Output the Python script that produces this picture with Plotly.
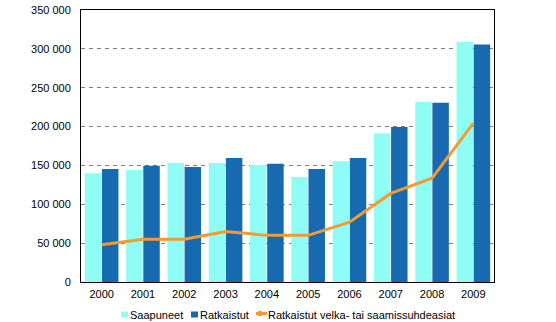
import plotly.graph_objects as go

years = ["2000", "2001", "2002", "2003", "2004", "2005", "2006", "2007", "2008", "2009"]
saapuneet = [140000, 144000, 153000, 153000, 150500, 135000, 155500, 191500, 232000, 309000]
ratkaistut = [145500, 149500, 148000, 159500, 152000, 145500, 159500, 199500, 230500, 305500]
velka_saamissuhde = [48000, 55000, 55000, 65000, 60000, 60000, 77000, 114000, 133500, 204500]

y_ticks = [0, 50000, 100000, 150000, 200000, 250000, 300000, 350000]
y_tick_labels = ["0", "50 000", "100 000", "150 000", "200 000", "250 000", "300 000", "350 000"]

series_names = ["Saapuneet", "Ratkaistut", "Ratkaistut velka- tai saamissuhdeasiat"]
series_colors = ["#8ffcf6", "#1769b0", "#f39a32"]

W, H = 556, 322
M = dict(l=81, r=62, t=10, b=40)
PW, PH = W - M["l"] - M["r"], H - M["t"] - M["b"]


def px_x(px):
    return (px - M["l"]) / PW


def px_y(py):
    return (H - M["b"] - py) / PH


fig = go.Figure()
fig.add_trace(go.Bar(x=years, y=saapuneet, name=series_names[0],
                     marker=dict(color=series_colors[0], line=dict(width=0))))
fig.add_trace(go.Bar(x=years, y=ratkaistut, name=series_names[1],
                     marker=dict(color=series_colors[1], line=dict(width=0))))
fig.add_trace(go.Scatter(x=years, y=velka_saamissuhde, mode="lines", name=series_names[2],
                         line=dict(color=series_colors[2], width=3)))

# compact legend row under the x axis
legend_y = 314.5
legend_items = [  # (symbol kind, symbol left, symbol right, text left)
    ("box", 121, 128, 128),
    ("box", 191, 198, 198),
    ("line", 256, 267, 266),
]
shapes = []
annotations = []
for (kind, s0, s1, tx), name, color in zip(legend_items, series_names, series_colors):
    if kind == "box":
        shapes.append(dict(type="rect", xref="paper", yref="paper",
                           x0=px_x(s0), x1=px_x(s1),
                           y0=px_y(legend_y + 3), y1=px_y(legend_y - 3),
                           fillcolor=color, line=dict(width=0)))
    else:
        shapes.append(dict(type="line", xref="paper", yref="paper",
                           x0=px_x(s0), x1=px_x(s1),
                           y0=px_y(legend_y - 1), y1=px_y(legend_y - 1),
                           line=dict(color=color, width=3)))
        shapes.append(dict(type="rect", xref="paper", yref="paper",
                           x0=px_x(s0 + 2), x1=px_x(s0 + 6),
                           y0=px_y(legend_y + 1.5), y1=px_y(legend_y - 3.5),
                           fillcolor=color, line=dict(width=0)))
    annotations.append(dict(text=name, xref="paper", yref="paper",
                            x=px_x(tx), y=px_y(legend_y), xanchor="left",
                            yanchor="middle", showarrow=False,
                            font=dict(size=11, color="black")))

fig.update_layout(
    width=W, height=H,
    margin=dict(**M, autoexpand=False),
    paper_bgcolor="white", plot_bgcolor="white",
    font=dict(family="Liberation Sans, Arial, sans-serif", size=11, color="black"),
    barmode="group", bargap=0.17, bargroupgap=0.04,
    showlegend=False,
    shapes=shapes,
    annotations=annotations,
)
fig.update_xaxes(type="category", showline=True, linecolor="black", linewidth=1,
                 mirror=True, ticks="", showgrid=False, ticklabelstandoff=2)
fig.update_yaxes(range=[0, 350000], tickvals=y_ticks, ticktext=y_tick_labels,
                 showline=True, linecolor="black", linewidth=1, mirror=True,
                 showgrid=True, gridcolor="#808080", griddash="4px,4px", gridwidth=1,
                 zeroline=False, ticks="", ticklabelstandoff=7)

fig.write_html("out.html")
